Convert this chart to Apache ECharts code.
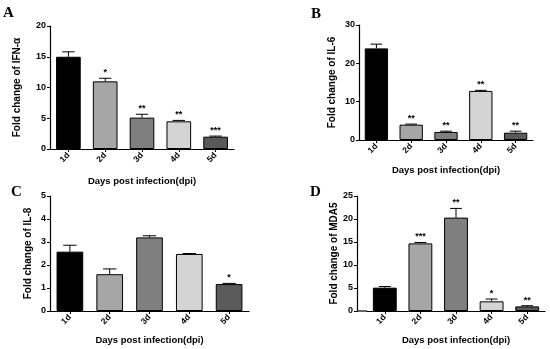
<!DOCTYPE html>
<html>
<head>
<meta charset="utf-8">
<script src="https://cdn.jsdelivr.net/npm/echarts@6/dist/echarts.min.js"></script>
<style>
html,body{margin:0;padding:0;background:#fff;}
#chart{width:550px;height:349px;}
</style>
</head>
<body>
<div id="chart"></div>
<script>
const categories = ['1d', '2d', '3d', '4d', '5d'];
const barColors = ['#000000', '#a6a6a6', '#7f7f7f', '#d4d4d4', '#5a5a5a'];

const ifnMean = [15.0, 11.0, 5.1, 4.5, 2.0];
const ifnSem  = [0.8, 0.5, 0.55, 0.15, 0.1];
const ifnSig  = ['', '*', '**', '**', '***'];

const il6Mean = [23.9, 4.0, 2.1, 12.8, 1.9];
const il6Sem  = [1.1, 0.15, 0.2, 0.15, 0.4];
const il6Sig  = ['', '**', '**', '**', '**'];

const il8Mean = [2.58, 1.6, 3.2, 2.48, 1.17];
const il8Sem  = [0.28, 0.23, 0.07, 0.02, 0.03];
const il8Sig  = ['', '', '', '', '*'];

const mdaMean = [5.07, 14.7, 20.3, 2.1, 1.0];
const mdaSem  = [0.25, 0.2, 2.0, 0.5, 0.15];
const mdaSig  = ['', '***', '**', '*', '**'];

const panels = [
  {letter:'A', mean:ifnMean, sem:ifnSem, sig:ifnSig, yName:'Fold change of IFN-α', max:20, interval:5,
   grid:{left:50, top:26, width:184, height:123}, nameGap:28, yOffset:0, xNameGap:27},
  {letter:'B', mean:il6Mean, sem:il6Sem, sig:il6Sig, yName:'Fold change of IL-6', max:30, interval:10,
   grid:{left:359, top:25, width:174, height:115}, nameGap:22, yOffset:0, xNameGap:25},
  {letter:'C', mean:il8Mean, sem:il8Sem, sig:il8Sig, yName:'Fold change of IL-8', max:5, interval:1,
   grid:{left:50, top:196, width:199, height:115}, nameGap:17, yOffset:0, xNameGap:24},
  {letter:'D', mean:mdaMean, sem:mdaSem, sig:mdaSig, yName:'Fold change of MDA5', max:25, interval:5,
   grid:{left:367, top:196, width:178, height:115}, nameGap:12, yOffset:10, xNameGap:24}
];
const letterPos = [[3,6],[311,7],[11,185],[310,185]];

const FONT = 'Liberation Sans, Arial, sans-serif';
const grids = [], xAxes = [], yAxes = [], series = [], graphics = [];

panels.forEach((p, i) => {
  grids.push(p.grid);
  xAxes.push({
    type:'category', gridIndex:i, data:categories,
    name:'Days post infection(dpi)', nameLocation:'middle', nameGap:p.xNameGap,
    nameTextStyle:{fontFamily:FONT, fontWeight:'bold', fontSize:9.5, color:'#000'},
    axisLine:{lineStyle:{color:'#000', width:1.2}},
    axisTick:{show:true, alignWithLabel:true, length:3, lineStyle:{color:'#000'}},
    axisLabel:{rotate:45, fontFamily:FONT, fontWeight:'bold', fontSize:8.5, color:'#000', margin:5}
  });
  yAxes.push({
    type:'value', gridIndex:i, min:0, max:p.max, interval:p.interval, offset:p.yOffset,
    name:p.yName, nameLocation:'middle', nameGap:p.nameGap, nameRotate:90,
    nameTextStyle:{fontFamily:FONT, fontWeight:'bold', fontSize:10, color:'#000'},
    axisLine:{show:true, lineStyle:{color:'#000', width:1.2}},
    axisTick:{show:true, length:3, lineStyle:{color:'#000'}},
    axisLabel:{fontFamily:FONT, fontWeight:'bold', fontSize:9, color:'#000', margin:4},
    splitLine:{show:false}
  });
  series.push({
    type:'bar', xAxisIndex:i, yAxisIndex:i, barWidth:'67%',
    data:p.mean.map((v, k) => ({value:v, itemStyle:{color:barColors[k], borderColor:'#000', borderWidth:1}})),
    z:2
  });
  series.push({
    type:'custom', xAxisIndex:i, yAxisIndex:i, z:3,
    data:p.mean.map((v, k) => [k, v, p.sem[k]]),
    renderItem:function(params, api){
      const x = api.value(0), m = api.value(1), e = api.value(2);
      const base = api.coord([x, m]);
      const top = api.coord([x, m + e]);
      const bw = api.size([1, 0])[0] * 0.67;
      const cap = bw * 0.5;
      const sig = p.sig[params.dataIndex];
      const children = [
        {type:'line', shape:{x1:base[0], y1:base[1], x2:top[0], y2:top[1]}, style:{stroke:'#000', lineWidth:1}},
        {type:'line', shape:{x1:top[0]-cap/2, y1:top[1], x2:top[0]+cap/2, y2:top[1]}, style:{stroke:'#000', lineWidth:1}}
      ];
      if (sig) {
        children.push({type:'text', style:{text:sig, x:top[0], y:top[1]-1, textAlign:'center', textVerticalAlign:'bottom',
          font:'bold 9px ' + FONT, fill:'#000'}});
      }
      return {type:'group', children:children};
    }
  });
  graphics.push({type:'text', left:letterPos[i][0], top:letterPos[i][1],
    style:{text:p.letter, font:'bold 15px "Liberation Serif", "Times New Roman", serif', fill:'#000'}});
});
// connect D's offset y axis to its x axis line
graphics.push({type:'line', shape:{x1:357, y1:311, x2:367, y2:311}, style:{stroke:'#000', lineWidth:1.2}});

const chart = echarts.init(document.getElementById('chart'), null, {renderer:'canvas'});
chart.setOption({
  animation:false,
  backgroundColor:'#fff',
  grid:grids, xAxis:xAxes, yAxis:yAxes, series:series, graphic:graphics
});
</script>
</body>
</html>
